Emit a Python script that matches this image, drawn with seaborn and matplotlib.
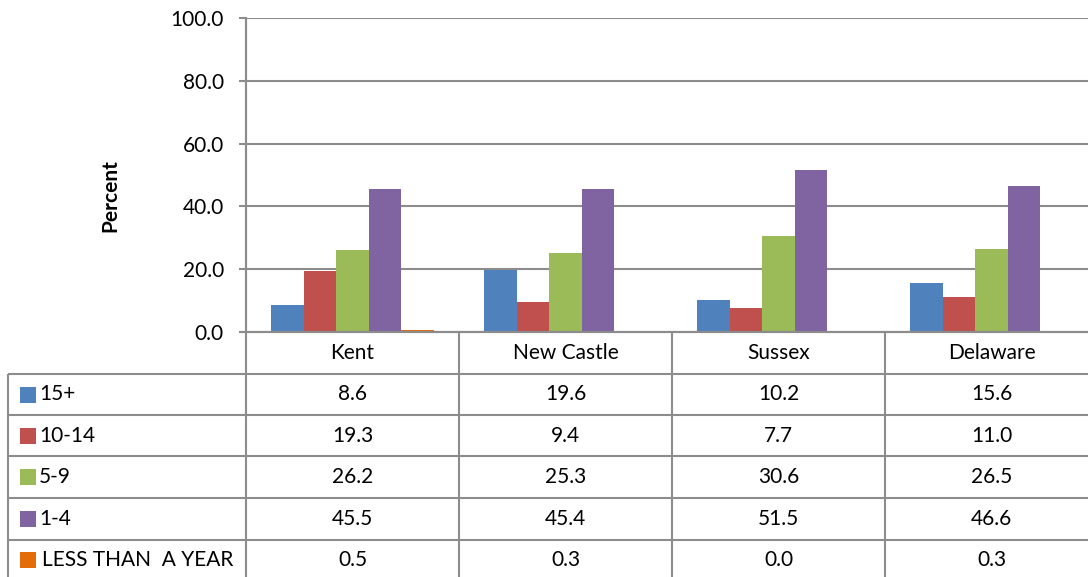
import matplotlib
matplotlib.use("Agg")
import matplotlib.pyplot as plt
import seaborn as sns
import pandas as pd

# ---- data ----
categories = ["Kent", "New Castle", "Sussex", "Delaware"]
series_names = ["15+", "10-14", "5-9", "1-4", "LESS THAN  A YEAR"]
vals_15_plus = [8.6, 19.6, 10.2, 15.6]
vals_10_14 = [19.3, 9.4, 7.7, 11.0]
vals_5_9 = [26.2, 25.3, 30.6, 26.5]
vals_1_4 = [45.5, 45.4, 51.5, 46.6]
vals_lt_year = [0.5, 0.3, 0.0, 0.3]
y_ticks = [0, 20, 40, 60, 80, 100]

series_values = [vals_15_plus, vals_10_14, vals_5_9, vals_1_4, vals_lt_year]
colors = ["#4F81BD", "#C0504D", "#9BBB59", "#8064A2", "#E36C09"]

rows = []
for name, vals in zip(series_names, series_values):
    for c, v in zip(categories, vals):
        rows.append({"County": c, "Age": name, "Percent": v})
df = pd.DataFrame(rows)

sns.set_theme(style="white")
plt.rcParams["font.family"] = ["Lato", "DejaVu Sans"]

W, H = 1088, 577
fig = plt.figure(figsize=(W / 100, H / 100), dpi=100)
fig.patch.set_facecolor("white")

GRID = "#8C8C8C"
LW = 1.5
FS = 15

# plot area in pixels
x0, x1 = 246, 246 + 4 * 213
ytop, ybot = 18, 332
ax = fig.add_axes([x0 / W, 1 - ybot / H, (x1 - x0) / W, (ybot - ytop) / H])
sns.barplot(data=df, x="County", y="Percent", hue="Age", hue_order=series_names,
            order=categories, palette=colors, saturation=1, width=0.765, gap=0,
            legend=False, ax=ax, linewidth=0)
ax.set_ylim(0, 100)
ax.set_xlim(-0.5, 3.5)
ax.set_yticks(y_ticks)
ax.set_yticklabels([f"{t:.1f}" for t in y_ticks], fontsize=FS, color="black")
ax.set_xticks([])
ax.set_xlabel("")
ax.set_ylabel("")
ax.set_axisbelow(True)
ax.yaxis.grid(True, color=GRID, linewidth=LW)
ax.tick_params(axis="y", which="major", left=True, length=5, width=LW, color=GRID, pad=11)
for s in ["top", "right"]:
    ax.spines[s].set_visible(False)
ax.spines["left"].set_color(GRID)
ax.spines["left"].set_linewidth(LW)
ax.spines["bottom"].set_color(GRID)
ax.spines["bottom"].set_linewidth(LW)

fig.text(110 / W, 1 - 196 / H, "Percent", rotation=90, ha="center", va="center",
         fontsize=FS, fontweight="bold", color="black")

# ---- data table overlay ----
axt = fig.add_axes([0, 0, 1, 1])
axt.set_xlim(0, W)
axt.set_ylim(H, 0)
axt.axis("off")
axt.patch.set_visible(False)

col_edges = [x0 + i * 213 for i in range(5)]
row_edges = [332, 374, 415, 456, 498, 540, 582]
left_x = 8

kw = dict(color=GRID, linewidth=LW, solid_capstyle="butt")
# horizontal lines
axt.plot([x0 - 7, W + 20], [332, 332], **kw)
for y in row_edges[1:-1]:
    axt.plot([left_x, W + 20], [y, y], **kw)
# vertical lines
axt.plot([x0, x0], [ytop, H + 5], **kw)
for xc in col_edges[1:-1]:
    axt.plot([xc, xc], [332, H + 5], **kw)
axt.plot([left_x, left_x], [374, H + 5], **kw)

# header
for i, c in enumerate(categories):
    cx = (col_edges[i] + col_edges[i + 1]) / 2
    axt.text(cx, (row_edges[0] + row_edges[1]) / 2, c, ha="center", va="center",
             fontsize=FS, color="black")

# rows
for r, (name, vals, col) in enumerate(zip(series_names, series_values, colors)):
    yc = (row_edges[r + 1] + row_edges[r + 2]) / 2
    if r == len(series_names) - 1:
        yc = (row_edges[r + 1] + H) / 2 + 1
    axt.add_patch(plt.Rectangle((20, yc - 8), 16, 16, facecolor=col, edgecolor="none"))
    axt.text(39 if r < 4 else 42, yc, name, ha="left", va="center", fontsize=FS, color="black")
    for i, v in enumerate(vals):
        cx = (col_edges[i] + col_edges[i + 1]) / 2
        axt.text(cx, yc, f"{v:.1f}", ha="center", va="center", fontsize=FS, color="black")

fig.savefig("out.png", dpi=100, facecolor="white")
